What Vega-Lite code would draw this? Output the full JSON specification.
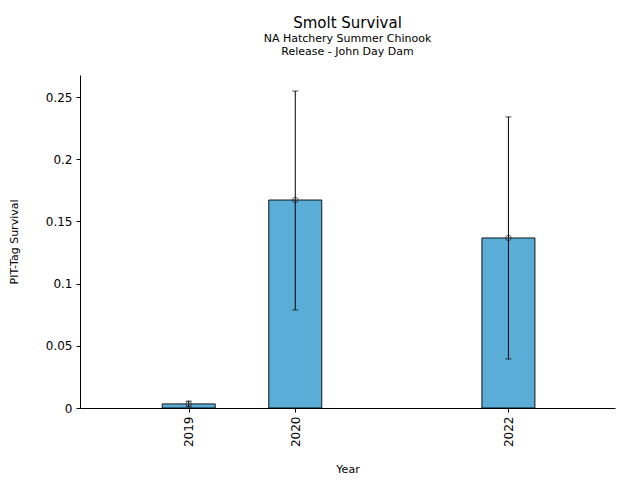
{
  "$schema": "https://vega.github.io/schema/vega-lite/v6.json",
  "autosize": "none",
  "width": 535,
  "height": 333,
  "padding": {"left": 80, "top": 75, "right": 25, "bottom": 72},
  "background": "white",
  "title": {
    "text": "Smolt Survival",
    "subtitle": ["NA Hatchery Summer Chinook", "Release - John Day Dam"],
    "anchor": "middle",
    "font": "DejaVu Sans",
    "fontSize": 15,
    "fontWeight": "normal",
    "color": "black",
    "subtitleFont": "DejaVu Sans",
    "subtitleFontSize": 11,
    "subtitleColor": "black",
    "subtitlePadding": 2,
    "offset": 18
  },
  "data": {
    "values": [
      {"Year": 2019, "Survival": 0.0033, "Lower": 0.001, "Upper": 0.0055},
      {"Year": 2020, "Survival": 0.1672, "Lower": 0.0788, "Upper": 0.2548},
      {"Year": 2022, "Survival": 0.1367, "Lower": 0.0394, "Upper": 0.234}
    ]
  },
  "config": {
    "view": {"stroke": null},
    "axis": {
      "grid": false,
      "domainColor": "black",
      "tickColor": "black",
      "labelColor": "black",
      "titleColor": "black",
      "labelFont": "DejaVu Sans",
      "titleFont": "DejaVu Sans",
      "labelFontSize": 12,
      "titleFontSize": 11,
      "titleFontWeight": "normal",
      "tickSize": 4
    }
  },
  "encoding": {
    "x": {
      "field": "Year",
      "type": "quantitative",
      "scale": {"domain": [2017.98, 2023], "nice": false, "zero": false, "padding": 0},
      "axis": {"values": [2019, 2020, 2022], "format": "d", "labelAngle": -90, "labelPadding": 4, "title": "Year", "titlePadding": 17}
    }
  },
  "layer": [
    {
      "mark": {"type": "bar", "width": 53, "color": "#5aadd6", "stroke": "black", "strokeWidth": 0.9},
      "encoding": {
        "y": {
          "field": "Survival",
          "type": "quantitative",
          "scale": {"domain": [0, 0.2677], "nice": false},
          "axis": {"values": [0, 0.05, 0.1, 0.15, 0.2, 0.25], "format": "~g", "title": "PIT-Tag Survival", "titlePadding": 26, "labelPadding": 4}
        }
      }
    },
    {
      "mark": {"type": "errorbar", "ticks": {"size": 6, "color": "black"}, "color": "black", "thickness": 1},
      "encoding": {
        "y": {"field": "Lower", "type": "quantitative", "title": "PIT-Tag Survival"},
        "y2": {"field": "Upper"}
      }
    },
    {
      "mark": {"type": "point", "shape": "circle", "filled": false, "size": 30, "color": "#222222", "strokeWidth": 1},
      "encoding": {
        "y": {"field": "Survival", "type": "quantitative", "title": "PIT-Tag Survival"}
      }
    }
  ]
}
